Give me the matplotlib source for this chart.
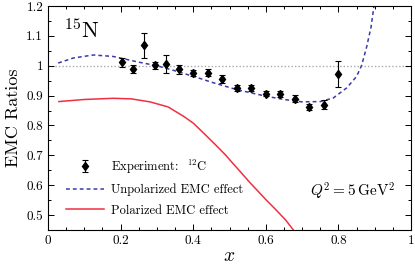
import numpy as np
import matplotlib
matplotlib.use("Agg")
import matplotlib.pyplot as plt
from matplotlib.ticker import MultipleLocator

plt.rcParams['font.family'] = ['cmr10', 'DejaVu Serif']
plt.rcParams['mathtext.fontset'] = 'cm'
plt.rcParams['axes.formatter.use_mathtext'] = True

# donnees experimentales (carbone 12)
x_exp = [0.205, 0.235, 0.264, 0.294, 0.324, 0.36, 0.40, 0.44, 0.48,
         0.52, 0.56, 0.60, 0.64, 0.68, 0.72, 0.76, 0.80]
y_exp = [1.012, 0.989, 1.069, 1.002, 1.006, 0.988, 0.975, 0.977, 0.956,
         0.927, 0.927, 0.907, 0.904, 0.890, 0.862, 0.870, 0.973]
err_exp = [0.015, 0.013, 0.042, 0.012, 0.030, 0.015, 0.010, 0.013, 0.014,
           0.010, 0.010, 0.010, 0.010, 0.012, 0.010, 0.015, 0.044]

# effet EMC non polarise
x_unpol = [0.028, 0.07, 0.125, 0.18, 0.25, 0.30, 0.35, 0.42, 0.45, 0.52,
           0.60, 0.65, 0.70, 0.75, 0.786, 0.823, 0.85, 0.864, 0.878, 0.89,
           0.898, 0.905]
y_unpol = [1.009, 1.026, 1.036, 1.031, 1.012, 1.000, 0.983, 0.957, 0.945,
           0.920, 0.898, 0.887, 0.879, 0.880, 0.892, 0.926, 0.964, 1.001,
           1.064, 1.13, 1.20, 1.26]

# effet EMC polarise
x_pol = [0.03, 0.10, 0.18, 0.23, 0.281, 0.331, 0.373, 0.40, 0.43, 0.465,
         0.49, 0.51, 0.53, 0.556, 0.58, 0.60, 0.63, 0.655, 0.676, 0.69]
y_pol = [0.880, 0.887, 0.891, 0.889, 0.879, 0.862, 0.831, 0.808, 0.773,
         0.731, 0.700, 0.672, 0.645, 0.609, 0.578, 0.552, 0.515, 0.483,
         0.45, 0.42]

x_ticks = [0, 0.2, 0.4, 0.6, 0.8, 1.0]
x_labels = ['0', '0.2', '0.4', '0.6', '0.8', '1']
y_ticks = [0.5, 0.6, 0.7, 0.8, 0.9, 1.0, 1.1, 1.2]
y_labels = ['0.5', '0.6', '0.7', '0.8', '0.9', '1', '1.1', '1.2']

fig = plt.figure(figsize=(4.15, 2.66), dpi=100)
ax = fig.add_axes([48/415, 1 - 230/266, 363/415, 224/266])

ax.axhline(1.0, color='#aaaaaa', ls=(0, (1, 1.5)), lw=1.0, zorder=1)

h_exp = ax.errorbar(x_exp, y_exp, yerr=err_exp, fmt='d', color='black',
                    markersize=4.5, elinewidth=0.8, capsize=2, capthick=0.8,
                    zorder=3)
h_unpol, = ax.plot(x_unpol, y_unpol, color='#3a3aa8', ls=(0, (2.5, 2)),
                   lw=1.1, zorder=2)
h_pol, = ax.plot(x_pol, y_pol, color='#f03040', lw=1.1, zorder=2)

ax.set_xlim(0, 1)
ax.set_ylim(0.45, 1.2)
ax.set_xticks(x_ticks)
ax.set_xticklabels(x_labels)
ax.set_yticks(y_ticks)
ax.set_yticklabels(y_labels)
ax.xaxis.set_minor_locator(MultipleLocator(0.05))
ax.yaxis.set_minor_locator(MultipleLocator(0.05))
ax.tick_params(which='both', direction='in', top=True, right=True,
               labelsize=9.5, width=0.7)
ax.tick_params(which='major', length=4)
ax.tick_params(which='minor', length=2)
for s in ax.spines.values():
    s.set_linewidth(0.8)

ax.set_xlabel(r'$x$', fontsize=14, labelpad=0)
ax.set_ylabel('EMC Ratios', fontsize=13, labelpad=4)

ax.text(0.044, 0.857, r'$^{15}$N', transform=ax.transAxes, fontsize=16,
        va='baseline', ha='left')
ax.text(0.84, 0.174, r'$Q^2 = 5\,\mathrm{GeV}^2$', transform=ax.transAxes,
        fontsize=11, ha='center', va='center')

ax.legend([h_exp, h_unpol, h_pol],
          [r'Experiment:  $^{12}$C', 'Unpolarized EMC effect',
           'Polarized EMC effect'],
          loc='center left', bbox_to_anchor=(0.05, 0.192), frameon=False,
          fontsize=9, handlelength=3.0, handletextpad=0.6, labelspacing=0.65,
          borderpad=0, borderaxespad=0)

fig.savefig('out.png', dpi=100)
